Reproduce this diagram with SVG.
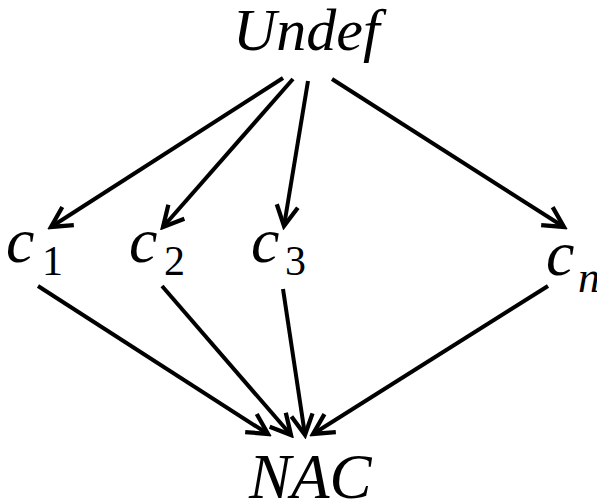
<svg xmlns="http://www.w3.org/2000/svg" width="597" height="502" viewBox="0 0 597 502">
<style>
.i{font-style:italic}
.e{stroke:#000;stroke-width:4;fill:none;marker-end:url(#ah)}
</style>
<defs>
<marker id="ah" markerUnits="userSpaceOnUse" markerWidth="32" markerHeight="32" viewBox="-26 -13 30 26" refX="0" refY="0" orient="auto">
<path d="M-19,-10 L0,0 L-19,10" fill="none" stroke="#000" stroke-width="4" stroke-linejoin="miter"/>
</marker>
</defs>
<rect width="597" height="502" fill="#fff"/>
<g id="edges">
<line class="e" x1="283" y1="78" x2="51" y2="227"/>
<line class="e" x1="293" y1="79" x2="163" y2="227"/>
<line class="e" x1="308" y1="81" x2="284" y2="226"/>
<line class="e" x1="332" y1="79" x2="564" y2="227"/>
<line class="e" x1="38" y1="286" x2="268" y2="434"/>
<line class="e" x1="162" y1="286" x2="291" y2="435"/>
<line class="e" x1="283" y1="289" x2="305" y2="435"/>
<line class="e" x1="548" y1="286" x2="313" y2="434"/>
</g>
<g id="undef"><text x="233" y="50" style="font-family:'Liberation Serif',serif;font-style:italic;font-size:60px">Undef</text></g>
<g id="c1"><text x="6" y="262" style="font-family:'Times New Roman',serif;font-style:italic;font-size:64px">c</text><text x="42" y="275" style="font-family:'Times New Roman',serif;font-size:42px">1</text></g>
<g id="c2"><text x="129" y="262" style="font-family:'Liberation Serif',serif;font-style:italic;font-size:64px">c</text><text x="164" y="275" style="font-family:'Liberation Serif',serif;font-size:42px">2</text></g>
<g id="c3"><text x="251" y="262" style="font-family:'Liberation Serif',serif;font-style:italic;font-size:64px">c</text><text x="285" y="275" style="font-family:'Liberation Serif',serif;font-size:42px">3</text></g>
<g id="cn"><text x="546" y="275" style="font-family:'Liberation Serif',serif;font-style:italic;font-size:64px">c</text><text x="578" y="292" style="font-family:'Liberation Serif',serif;font-style:italic;font-size:44px">n</text></g>
<g id="nac"><text x="249" y="498" style="font-family:'Liberation Serif',serif;font-style:italic;font-size:63px">NAC</text></g>
</svg>
